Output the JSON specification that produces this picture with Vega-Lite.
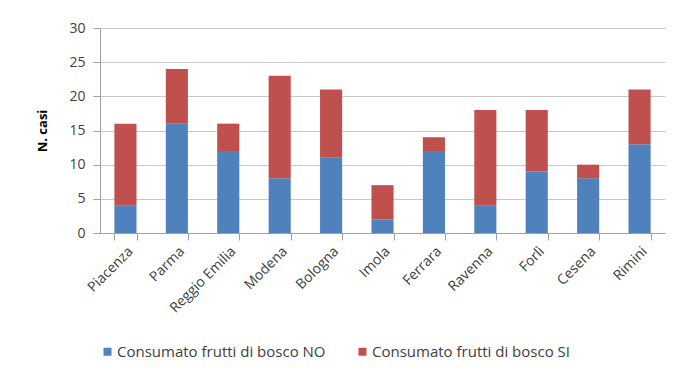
{
  "$schema": "https://vega.github.io/schema/vega-lite/v6.json",
  "autosize": "none",
  "padding": {"left": 100, "top": 28, "right": 18, "bottom": 138},
  "width": 565,
  "height": 205,
  "background": "white",
  "data": {"values": [
    {"citta": "Piacenza", "serie": "Consumato frutti di bosco NO", "casi": 4},
    {"citta": "Piacenza", "serie": "Consumato frutti di bosco SI", "casi": 12},
    {"citta": "Parma", "serie": "Consumato frutti di bosco NO", "casi": 16},
    {"citta": "Parma", "serie": "Consumato frutti di bosco SI", "casi": 8},
    {"citta": "Reggio Emilia", "serie": "Consumato frutti di bosco NO", "casi": 12},
    {"citta": "Reggio Emilia", "serie": "Consumato frutti di bosco SI", "casi": 4},
    {"citta": "Modena", "serie": "Consumato frutti di bosco NO", "casi": 8},
    {"citta": "Modena", "serie": "Consumato frutti di bosco SI", "casi": 15},
    {"citta": "Bologna", "serie": "Consumato frutti di bosco NO", "casi": 11},
    {"citta": "Bologna", "serie": "Consumato frutti di bosco SI", "casi": 10},
    {"citta": "Imola", "serie": "Consumato frutti di bosco NO", "casi": 2},
    {"citta": "Imola", "serie": "Consumato frutti di bosco SI", "casi": 5},
    {"citta": "Ferrara", "serie": "Consumato frutti di bosco NO", "casi": 12},
    {"citta": "Ferrara", "serie": "Consumato frutti di bosco SI", "casi": 2},
    {"citta": "Ravenna", "serie": "Consumato frutti di bosco NO", "casi": 4},
    {"citta": "Ravenna", "serie": "Consumato frutti di bosco SI", "casi": 14},
    {"citta": "Forlì", "serie": "Consumato frutti di bosco NO", "casi": 9},
    {"citta": "Forlì", "serie": "Consumato frutti di bosco SI", "casi": 9},
    {"citta": "Cesena", "serie": "Consumato frutti di bosco NO", "casi": 8},
    {"citta": "Cesena", "serie": "Consumato frutti di bosco SI", "casi": 2},
    {"citta": "Rimini", "serie": "Consumato frutti di bosco NO", "casi": 13},
    {"citta": "Rimini", "serie": "Consumato frutti di bosco SI", "casi": 8}
  ]},
  "mark": {"type": "bar"},
  "encoding": {
    "x": {
      "field": "citta", "type": "nominal", "sort": null,
      "scale": {"paddingInner": 0.57, "paddingOuter": 0.28},
      "axis": {"title": null, "labelAngle": -45, "labelAlign": "right", "labelBaseline": "top",
               "tickBand": "extent", "labelPadding": 4, "labelFontSize": 14}
    },
    "y": {
      "field": "casi", "type": "quantitative", "stack": "zero",
      "scale": {"domain": [0, 30]},
      "axis": {"title": "N. casi", "values": [0, 5, 10, 15, 20, 25, 30], "grid": true,
               "titleFontWeight": "bold", "titlePadding": 19, "titleFontSize": 13}
    },
    "color": {
      "field": "serie", "type": "nominal",
      "scale": {"domain": ["Consumato frutti di bosco NO", "Consumato frutti di bosco SI"], "range": ["#4F81BD", "#C0504D"]},
      "legend": {"title": null, "orient": "bottom", "direction": "horizontal", "symbolType": "square",
                 "columnPadding": 29, "symbolSize": 64, "labelFontSize": 15, "offset": 28, "labelOffset": 2,
                 "labelLimit": 400, "symbolStrokeWidth": 0, "symbolOpacity": 1}
    },
    "order": {"field": "serie", "sort": "ascending"}
  },
  "config": {
    "font": "Open Sans",
    "view": {"stroke": null},
    "axis": {"labelFont": "Open Sans", "titleFont": "Open Sans", "labelColor": "#404040", "titleColor": "#000000",
             "domainColor": "#A0A0A0", "tickColor": "#A0A0A0", "gridColor": "#C8C8C8", "tickSize": 7},
    "axisY": {"labelFontSize": 14, "labelPadding": 8},
    "legend": {"labelFont": "Open Sans", "labelColor": "#404040"}
  }
}
